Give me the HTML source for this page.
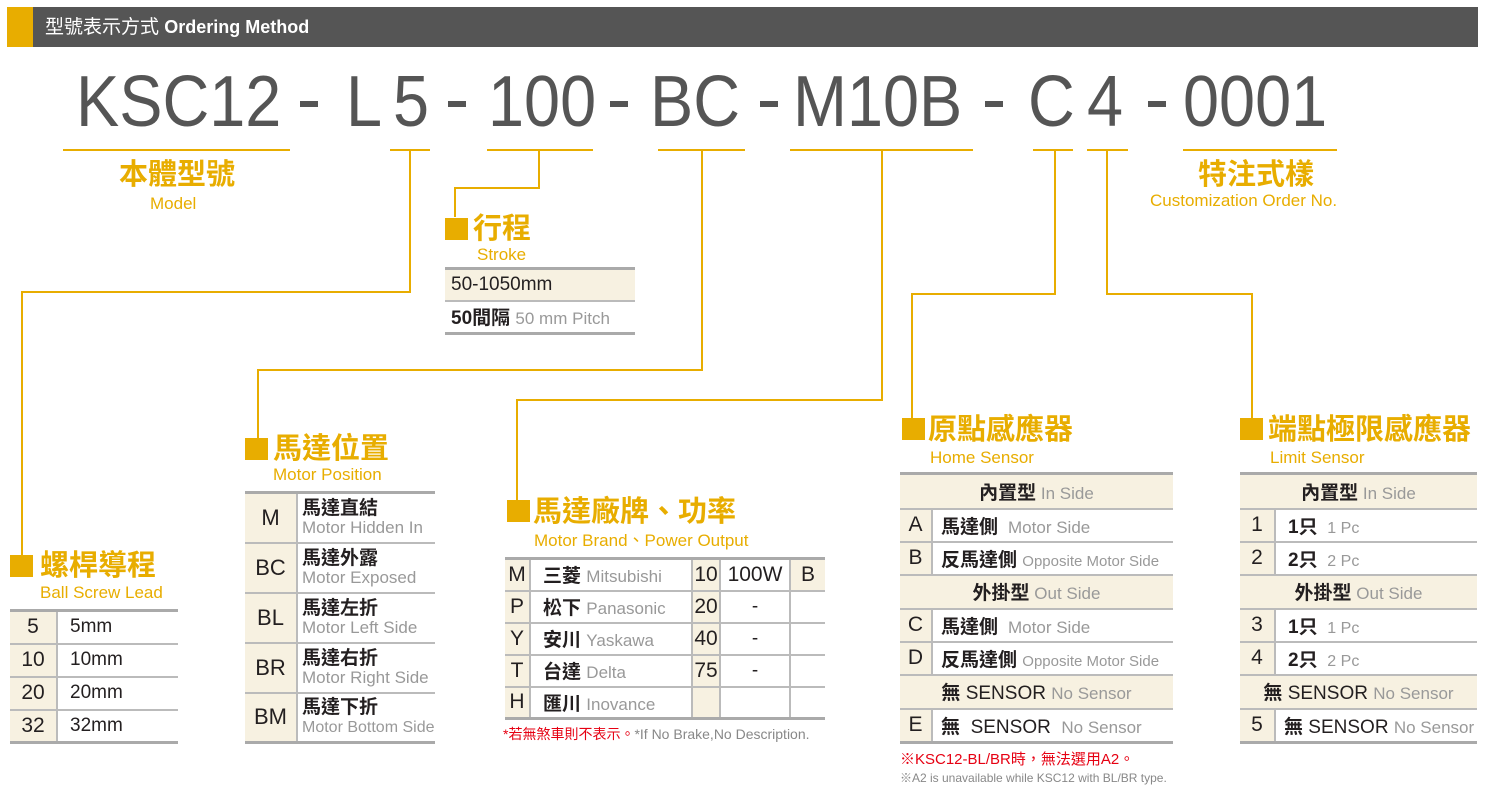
<!DOCTYPE html>
<html><head><meta charset="utf-8"><style>
*{margin:0;padding:0;box-sizing:border-box}
body{width:1498px;height:793px;background:#fff;position:relative;overflow:hidden;font-family:"Liberation Sans","Noto Sans CJK TC",sans-serif;color:#231f20}
.a{position:absolute;white-space:nowrap}
.big{position:absolute;top:63px;font-size:72px;line-height:78px;color:#555;transform-origin:left top;transform:scaleX(.9)}
.dash{position:absolute;top:101px;width:18px;height:6px;background:#555}
.h{position:absolute;background:#e8ad00;height:2px}
.v{position:absolute;background:#e8ad00;width:2px}
.sq{position:absolute;background:#e8ad00;width:23px;height:22px}
.tt{position:absolute;color:#e8ad00;font-weight:bold;font-size:29px;white-space:nowrap;line-height:30px}
.st{position:absolute;color:#e8ad00;font-size:17px;white-space:nowrap;line-height:20px}
table{position:absolute;border-collapse:collapse;border-top:3px solid #aaa;border-bottom:3px solid #aaa}
td{border-top:2px solid #bbb;padding:0;white-space:nowrap;font-size:19px;vertical-align:middle}
td.c{background:#f7f1e1;text-align:center}
td.k{font-size:21px}
td.vl{border-left:2px solid #bbb}
.g{color:#999;font-weight:normal}
.b{font-weight:bold}
</style></head><body>
<div class="a" style="left:7px;top:7px;width:1471px;height:40px;background:#555"></div>
<div class="a" style="left:7px;top:7px;width:26px;height:40px;background:#e8ad00"></div>
<div class="a" style="left:45px;top:15px;color:#fff;font-size:19px;line-height:24px">型號表示方式 <b style="font-size:18px">Ordering Method</b></div>

<div class="big" style="left:76px">KSC12</div>
<div class="dash" style="left:300px"></div>
<div class="big" style="left:346px">L</div>
<div class="big" style="left:393px">5</div>
<div class="dash" style="left:448px"></div>
<div class="big" style="left:488px">100</div>
<div class="dash" style="left:610px"></div>
<div class="big" style="left:650px">BC</div>
<div class="dash" style="left:760px"></div>
<div class="big" style="left:793px">M10B</div>
<div class="dash" style="left:985px"></div>
<div class="big" style="left:1028px">C</div>
<div class="big" style="left:1087px">4</div>
<div class="dash" style="left:1148px"></div>
<div class="big" style="left:1183px">0001</div>

<div class="h" style="left:63px;top:149px;width:227px"></div>
<div class="h" style="left:390px;top:149px;width:40px"></div>
<div class="h" style="left:487px;top:149px;width:106px"></div>
<div class="h" style="left:658px;top:149px;width:87px"></div>
<div class="h" style="left:790px;top:149px;width:183px"></div>
<div class="h" style="left:1033px;top:149px;width:40px"></div>
<div class="h" style="left:1087px;top:149px;width:41px"></div>
<div class="h" style="left:1183px;top:149px;width:154px"></div>

<div class="v" style="left:409px;top:149px;height:144px"></div>
<div class="h" style="left:21px;top:291px;width:390px"></div>
<div class="v" style="left:21px;top:291px;height:266px"></div>

<div class="v" style="left:538px;top:149px;height:40px"></div>
<div class="h" style="left:454px;top:187px;width:86px"></div>
<div class="v" style="left:454px;top:187px;height:30px"></div>

<div class="v" style="left:701px;top:149px;height:222px"></div>
<div class="h" style="left:257px;top:369px;width:446px"></div>
<div class="v" style="left:257px;top:369px;height:70px"></div>

<div class="v" style="left:881px;top:149px;height:252px"></div>
<div class="h" style="left:516px;top:399px;width:367px"></div>
<div class="v" style="left:516px;top:399px;height:102px"></div>

<div class="v" style="left:1054px;top:149px;height:146px"></div>
<div class="h" style="left:911px;top:293px;width:145px"></div>
<div class="v" style="left:911px;top:293px;height:126px"></div>

<div class="v" style="left:1106px;top:149px;height:146px"></div>
<div class="h" style="left:1106px;top:293px;width:147px"></div>
<div class="v" style="left:1251px;top:293px;height:126px"></div>

<div class="tt" style="left:119px;top:160px">本體型號</div>
<div class="st" style="left:150px;top:194px">Model</div>
<div class="tt" style="left:1198px;top:160px">特注式樣</div>
<div class="st" style="left:1150px;top:191px">Customization Order No.</div>

<div class="sq" style="left:445px;top:218px"></div>
<div class="tt" style="left:473px;top:214px">行程</div>
<div class="st" style="left:477px;top:245px">Stroke</div>

<div class="sq" style="left:245px;top:438px"></div>
<div class="tt" style="left:273px;top:434px">馬達位置</div>
<div class="st" style="left:273px;top:465px">Motor Position</div>

<div class="sq" style="left:10px;top:555px"></div>
<div class="tt" style="left:40px;top:551px">螺桿導程</div>
<div class="st" style="left:40px;top:583px">Ball Screw Lead</div>

<div class="sq" style="left:507px;top:500px"></div>
<div class="tt" style="left:533px;top:497px">馬達廠牌、功率</div>
<div class="st" style="left:534px;top:531px">Motor Brand、Power Output</div>

<div class="sq" style="left:902px;top:418px"></div>
<div class="tt" style="left:928px;top:415px">原點感應器</div>
<div class="st" style="left:930px;top:448px">Home Sensor</div>

<div class="sq" style="left:1240px;top:418px"></div>
<div class="tt" style="left:1268px;top:415px">端點極限感應器</div>
<div class="st" style="left:1270px;top:448px">Limit Sensor</div>

<table style="left:445px;top:267px;width:190px">
<tr style="height:32px"><td class="c" style="text-align:left;padding-left:6px">50-1050mm</td></tr>
<tr style="height:33px"><td style="padding-left:6px"><span class="b">50間隔</span> <span class="g" style="font-size:17px">50 mm Pitch</span></td></tr>
</table>

<table style="left:10px;top:609px;width:168px">
<tr style="height:33px"><td class="c k" style="width:47px">5</td><td class="vl" style="padding-left:12px">5mm</td></tr>
<tr style="height:33px"><td class="c k">10</td><td class="vl" style="padding-left:12px">10mm</td></tr>
<tr style="height:33px"><td class="c k">20</td><td class="vl" style="padding-left:12px">20mm</td></tr>
<tr style="height:33px"><td class="c k">32</td><td class="vl" style="padding-left:12px">32mm</td></tr>
</table>

<table style="left:245px;top:491px;width:190px">
<tr style="height:50px"><td class="c" style="width:52px;font-size:22px">M</td><td class="vl" style="padding-left:4px;line-height:19px"><span class="b">馬達直結</span><br><span class="g" style="font-size:17px">Motor Hidden In</span></td></tr>
<tr style="height:50px"><td class="c" style="font-size:22px">BC</td><td class="vl" style="padding-left:4px;line-height:19px"><span class="b">馬達外露</span><br><span class="g" style="font-size:17px">Motor Exposed</span></td></tr>
<tr style="height:50px"><td class="c" style="font-size:22px">BL</td><td class="vl" style="padding-left:4px;line-height:19px"><span class="b">馬達左折</span><br><span class="g" style="font-size:17px">Motor Left Side</span></td></tr>
<tr style="height:50px"><td class="c" style="font-size:22px">BR</td><td class="vl" style="padding-left:4px;line-height:19px"><span class="b">馬達右折</span><br><span class="g" style="font-size:17px">Motor Right Side</span></td></tr>
<tr style="height:50px"><td class="c" style="font-size:22px">BM</td><td class="vl" style="padding-left:4px;line-height:19px"><span class="b">馬達下折</span><br><span class="g" style="font-size:16px">Motor Bottom Side</span></td></tr>
</table>

<table style="left:505px;top:557px;width:320px">
<tr style="height:32px"><td class="c k" style="width:25px">M</td><td class="vl" style="width:162px;padding-left:12px"><span class="b">三菱</span> <span class="g" style="font-size:17px">Mitsubishi</span></td><td class="c vl k" style="width:28px">10</td><td class="vl" style="width:70px;text-align:center;font-size:21px">100W</td><td class="c vl k">B</td></tr>
<tr style="height:32px"><td class="c k">P</td><td class="vl" style="padding-left:12px"><span class="b">松下</span> <span class="g" style="font-size:17px">Panasonic</span></td><td class="c vl k">20</td><td class="vl" style="text-align:center">-</td><td class="vl"></td></tr>
<tr style="height:32px"><td class="c k">Y</td><td class="vl" style="padding-left:12px"><span class="b">安川</span> <span class="g" style="font-size:17px">Yaskawa</span></td><td class="c vl k">40</td><td class="vl" style="text-align:center">-</td><td class="vl"></td></tr>
<tr style="height:32px"><td class="c k">T</td><td class="vl" style="padding-left:12px"><span class="b">台達</span> <span class="g" style="font-size:17px">Delta</span></td><td class="c vl k">75</td><td class="vl" style="text-align:center">-</td><td class="vl"></td></tr>
<tr style="height:32px"><td class="c k">H</td><td class="vl" style="padding-left:12px"><span class="b">匯川</span> <span class="g" style="font-size:17px">Inovance</span></td><td class="c vl"></td><td class="vl"></td><td class="vl"></td></tr>
</table>
<div class="a" style="left:503px;top:724px;font-size:14px"><span style="color:#e60012">*若無煞車則不表示。</span><span style="color:#888">*If No Brake,No Description.</span></div>

<table style="left:900px;top:472px;width:273px">
<tr style="height:35px"><td class="c" colspan="2"><span class="b">內置型</span><span class="g" style="font-size:17px"> In Side</span></td></tr>
<tr style="height:33px"><td class="c k" style="width:32px">A</td><td class="vl" style="padding-left:8px"><span class="b">馬達側</span> <span class="g" style="font-size:17px">&nbsp;Motor Side</span></td></tr>
<tr style="height:33px"><td class="c k">B</td><td class="vl" style="padding-left:8px"><span class="b">反馬達側</span> <span class="g" style="font-size:15px">Opposite Motor Side</span></td></tr>
<tr style="height:34px"><td class="c" colspan="2"><span class="b">外掛型</span><span class="g" style="font-size:17px"> Out Side</span></td></tr>
<tr style="height:33px"><td class="c k">C</td><td class="vl" style="padding-left:8px"><span class="b">馬達側</span> <span class="g" style="font-size:17px">&nbsp;Motor Side</span></td></tr>
<tr style="height:33px"><td class="c k">D</td><td class="vl" style="padding-left:8px"><span class="b">反馬達側</span> <span class="g" style="font-size:15px">Opposite Motor Side</span></td></tr>
<tr style="height:34px"><td class="c" colspan="2"><span class="b">無</span> SENSOR <span class="g" style="font-size:17px">No Sensor</span></td></tr>
<tr style="height:34px"><td class="c k">E</td><td class="vl" style="padding-left:8px"><span class="b">無</span>&nbsp; SENSOR &nbsp;<span class="g" style="font-size:17px">No Sensor</span></td></tr>
</table>
<div class="a" style="left:900px;top:748px;font-size:15px;color:#e60012">※KSC12-BL/BR時，無法選用A2。</div>
<div class="a" style="left:900px;top:769px;font-size:12px;color:#888">※A2 is unavailable while KSC12 with BL/BR type.</div>

<table style="left:1240px;top:472px;width:237px">
<tr style="height:35px"><td class="c" colspan="2"><span class="b">內置型</span><span class="g" style="font-size:17px"> In Side</span></td></tr>
<tr style="height:33px"><td class="c k" style="width:35px">1</td><td class="vl" style="padding-left:12px"><span class="b">1只</span> <span class="g" style="font-size:16px">&nbsp;1 Pc</span></td></tr>
<tr style="height:33px"><td class="c k">2</td><td class="vl" style="padding-left:12px"><span class="b">2只</span> <span class="g" style="font-size:16px">&nbsp;2 Pc</span></td></tr>
<tr style="height:34px"><td class="c" colspan="2"><span class="b">外掛型</span><span class="g" style="font-size:17px"> Out Side</span></td></tr>
<tr style="height:33px"><td class="c k">3</td><td class="vl" style="padding-left:12px"><span class="b">1只</span> <span class="g" style="font-size:16px">&nbsp;1 Pc</span></td></tr>
<tr style="height:33px"><td class="c k">4</td><td class="vl" style="padding-left:12px"><span class="b">2只</span> <span class="g" style="font-size:16px">&nbsp;2 Pc</span></td></tr>
<tr style="height:34px"><td class="c" colspan="2"><span class="b">無</span> SENSOR <span class="g" style="font-size:17px">No Sensor</span></td></tr>
<tr style="height:34px"><td class="c k">5</td><td class="vl" style="padding-left:8px"><span class="b">無</span> SENSOR <span class="g" style="font-size:17px">No Sensor</span></td></tr>
</table>
</body></html>
